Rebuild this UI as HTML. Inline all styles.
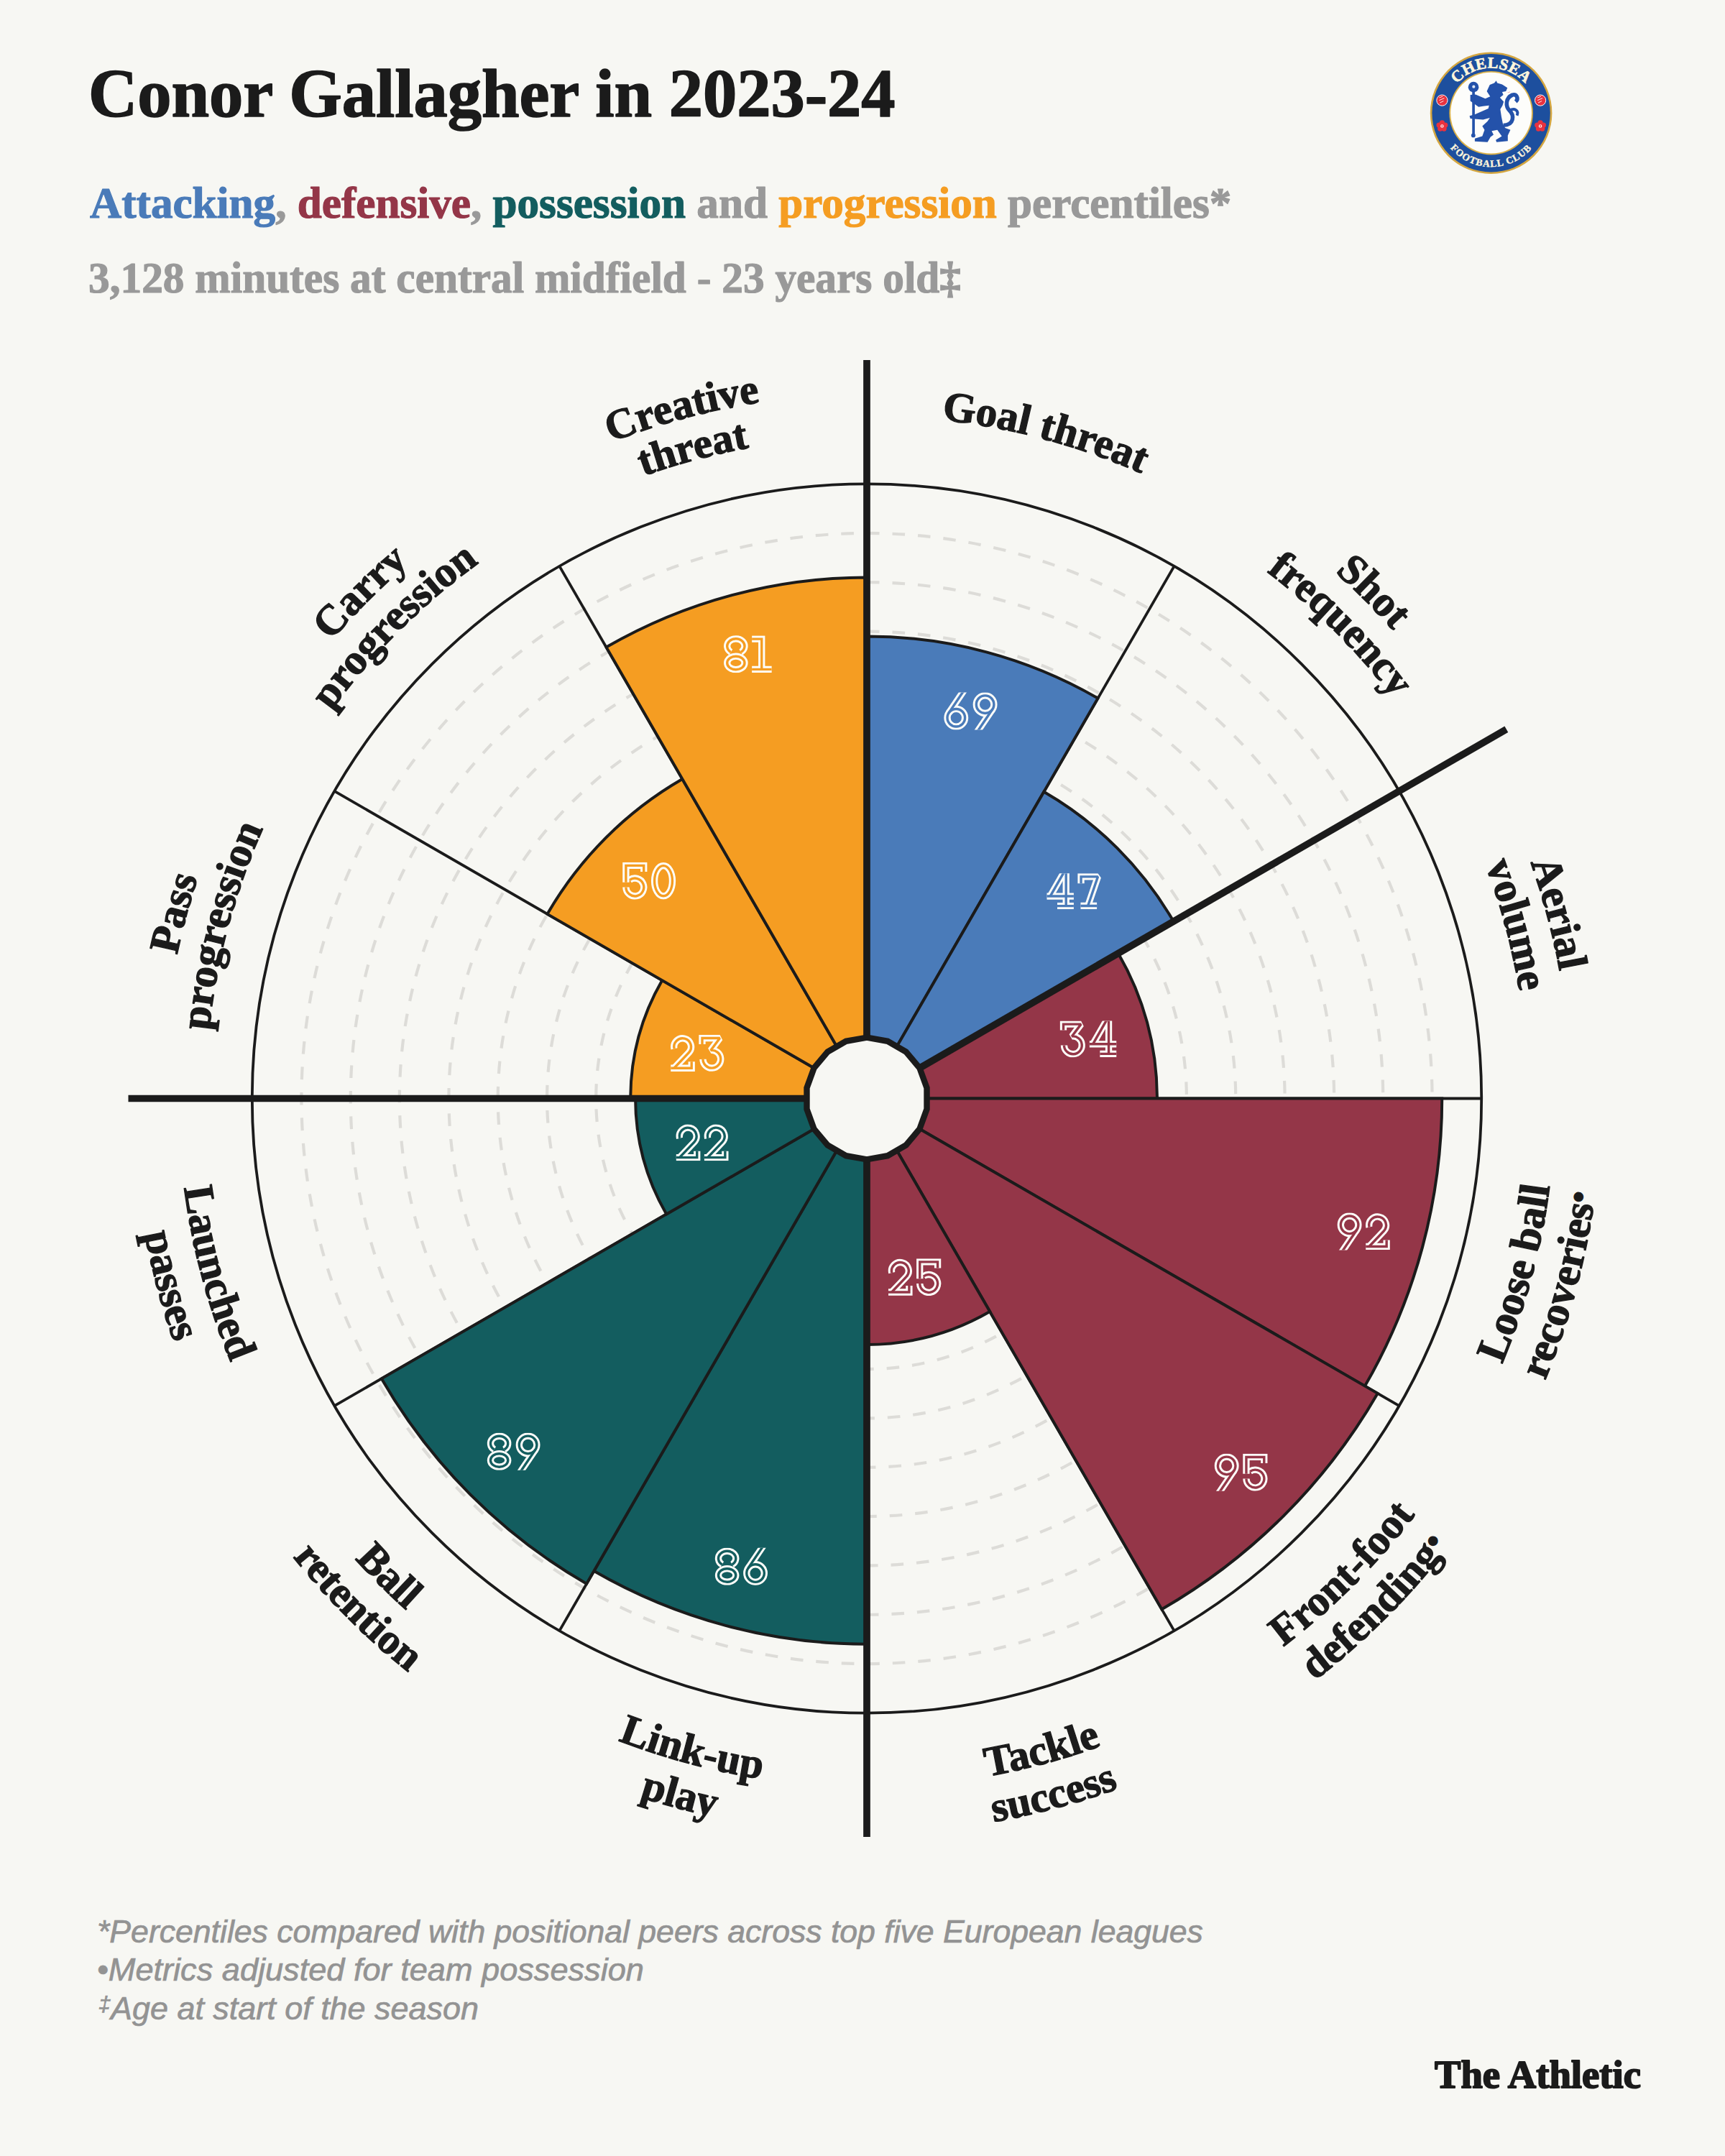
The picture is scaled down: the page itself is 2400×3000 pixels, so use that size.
<!DOCTYPE html>
<html><head><meta charset="utf-8"><style>
html,body{margin:0;padding:0;background:#f7f7f3;}
body{width:2400px;height:3000px;overflow:hidden;}
svg{display:block;}
</style></head><body>
<svg width="2400" height="3000" viewBox="0 0 2400 3000">
<defs><path id="lp0_0" d="M534.25 856.75 A950.00 950.00 0 0 1 2123.63 1282.62"/>
<path id="lp1_0" d="M952.36 581.89 A980.00 980.00 0 0 1 2152.61 1782.14"/>
<path id="lp1_1" d="M967.89 639.85 A920.00 920.00 0 0 1 2094.65 1766.61"/>
<path id="lp2_0" d="M1459.64 581.89 A980.00 980.00 0 0 1 1898.96 2221.46"/>
<path id="lp2_1" d="M1444.11 639.85 A920.00 920.00 0 0 1 1856.54 2179.04"/>
<path id="lp3_0" d="M1453.95 2453.86 A958.00 958.00 0 0 0 1883.41 851.09"/>
<path id="lp3_1" d="M1470.51 2515.68 A1022.00 1022.00 0 0 0 1928.66 805.84"/>
<path id="lp4_0" d="M958.05 2453.86 A958.00 958.00 0 0 0 2131.36 1280.55"/>
<path id="lp4_1" d="M941.49 2515.68 A1022.00 1022.00 0 0 0 2193.18 1263.99"/>
<path id="lp5_0" d="M528.59 2205.91 A958.00 958.00 0 0 0 2131.36 1776.45"/>
<path id="lp5_1" d="M483.34 2251.16 A1022.00 1022.00 0 0 0 2193.18 1793.01"/>
<path id="lp6_0" d="M280.64 1776.45 A958.00 958.00 0 0 0 1883.41 2205.91"/>
<path id="lp6_1" d="M218.82 1793.01 A1022.00 1022.00 0 0 0 1928.66 2251.16"/>
<path id="lp7_0" d="M280.64 1280.55 A958.00 958.00 0 0 0 1453.95 2453.86"/>
<path id="lp7_1" d="M218.82 1263.99 A1022.00 1022.00 0 0 0 1470.51 2515.68"/>
<path id="lp8_0" d="M528.59 851.09 A958.00 958.00 0 0 0 958.05 2453.86"/>
<path id="lp8_1" d="M483.34 805.84 A1022.00 1022.00 0 0 0 941.49 2515.68"/>
<path id="lp9_0" d="M513.04 2221.46 A980.00 980.00 0 0 1 952.36 581.89"/>
<path id="lp9_1" d="M555.46 2179.04 A920.00 920.00 0 0 1 967.89 639.85"/>
<path id="lp10_0" d="M259.39 1782.14 A980.00 980.00 0 0 1 1459.64 581.89"/>
<path id="lp10_1" d="M317.35 1766.61 A920.00 920.00 0 0 1 1444.11 639.85"/>
<path id="lp11_0" d="M259.39 1274.86 A980.00 980.00 0 0 1 1898.96 835.54"/>
<path id="lp11_1" d="M317.35 1290.39 A920.00 920.00 0 0 1 1856.54 877.96"/>
<path id="chtop" d="M2012.10 157.20 A62.50 62.50 0 0 1 2137.10 157.20"/>
<path id="chbot" d="M2000.74 170.22 A75.00 75.00 0 0 0 2148.46 170.22"/></defs>
<rect width="2400" height="3000" fill="#f7f7f3"/>
<text id="title" x="123" y="162" font-family="Liberation Serif" font-weight="bold" font-size="95" fill="#1b1b1b" stroke="#1b1b1b" stroke-width="1.6" stroke-linejoin="round" textLength="1122.6" lengthAdjust="spacingAndGlyphs">Conor Gallagher in 2023-24</text>
<text id="sub1" x="125" y="303" font-family="Liberation Serif" font-weight="bold" font-size="62" fill="#999999" stroke="#999999" stroke-width="1.2" stroke-linejoin="round" textLength="1588.4" lengthAdjust="spacingAndGlyphs"><tspan fill="#4a7bb9" stroke="#4a7bb9">Attacking</tspan>, <tspan fill="#943648" stroke="#943648">defensive</tspan>, <tspan fill="#135d5f" stroke="#135d5f">possession</tspan> and <tspan fill="#f59d22" stroke="#f59d22">progression</tspan> percentiles*</text>
<text id="sub2" x="123" y="407" font-family="Liberation Serif" font-weight="bold" font-size="62" fill="#999999" stroke="#999999" stroke-width="1.2" stroke-linejoin="round" textLength="1214.0" lengthAdjust="spacingAndGlyphs">3,128 minutes at central midfield - 23 years old‡</text>
<path d="M1206.00 1288.57 A239.93 239.93 0 1 1 1206.00 1768.43 A239.93 239.93 0 1 1 1206.00 1288.57" fill="none" stroke="#dddcd8" stroke-width="4.2" stroke-dasharray="17.6 17.95"/>
<path d="M1206.00 1220.24 A308.26 308.26 0 1 1 1206.00 1836.76 A308.26 308.26 0 1 1 1206.00 1220.24" fill="none" stroke="#dddcd8" stroke-width="4.2" stroke-dasharray="17.6 17.95"/>
<path d="M1206.00 1151.91 A376.59 376.59 0 1 1 1206.00 1905.09 A376.59 376.59 0 1 1 1206.00 1151.91" fill="none" stroke="#dddcd8" stroke-width="4.2" stroke-dasharray="17.6 17.95"/>
<path d="M1206.00 1083.58 A444.92 444.92 0 1 1 1206.00 1973.42 A444.92 444.92 0 1 1 1206.00 1083.58" fill="none" stroke="#dddcd8" stroke-width="4.2" stroke-dasharray="17.6 17.95"/>
<path d="M1206.00 1015.25 A513.25 513.25 0 1 1 1206.00 2041.75 A513.25 513.25 0 1 1 1206.00 1015.25" fill="none" stroke="#dddcd8" stroke-width="4.2" stroke-dasharray="17.6 17.95"/>
<path d="M1206.00 946.92 A581.58 581.58 0 1 1 1206.00 2110.08 A581.58 581.58 0 1 1 1206.00 946.92" fill="none" stroke="#dddcd8" stroke-width="4.2" stroke-dasharray="17.6 17.95"/>
<path d="M1206.00 878.59 A649.91 649.91 0 1 1 1206.00 2178.41 A649.91 649.91 0 1 1 1206.00 878.59" fill="none" stroke="#dddcd8" stroke-width="4.2" stroke-dasharray="17.6 17.95"/>
<path d="M1206.00 810.26 A718.24 718.24 0 1 1 1206.00 2246.74 A718.24 718.24 0 1 1 1206.00 810.26" fill="none" stroke="#dddcd8" stroke-width="4.2" stroke-dasharray="17.6 17.95"/>
<path d="M1206.00 741.93 A786.57 786.57 0 1 1 1206.00 2315.07 A786.57 786.57 0 1 1 1206.00 741.93" fill="none" stroke="#dddcd8" stroke-width="4.2" stroke-dasharray="17.6 17.95"/>
<circle cx="1206.00" cy="1528.50" r="855.20" fill="none" stroke="#1b1b1b" stroke-width="3.8"/>
<line x1="1206.00" y1="1528.50" x2="1206.00" y2="673.30" stroke="#1b1b1b" stroke-width="3.8"/>
<line x1="1206.00" y1="1528.50" x2="1633.60" y2="787.88" stroke="#1b1b1b" stroke-width="3.8"/>
<line x1="1206.00" y1="1528.50" x2="1946.62" y2="1100.90" stroke="#1b1b1b" stroke-width="3.8"/>
<line x1="1206.00" y1="1528.50" x2="2061.20" y2="1528.50" stroke="#1b1b1b" stroke-width="3.8"/>
<line x1="1206.00" y1="1528.50" x2="1946.62" y2="1956.10" stroke="#1b1b1b" stroke-width="3.8"/>
<line x1="1206.00" y1="1528.50" x2="1633.60" y2="2269.12" stroke="#1b1b1b" stroke-width="3.8"/>
<line x1="1206.00" y1="1528.50" x2="1206.00" y2="2383.70" stroke="#1b1b1b" stroke-width="3.8"/>
<line x1="1206.00" y1="1528.50" x2="778.40" y2="2269.12" stroke="#1b1b1b" stroke-width="3.8"/>
<line x1="1206.00" y1="1528.50" x2="465.38" y2="1956.10" stroke="#1b1b1b" stroke-width="3.8"/>
<line x1="1206.00" y1="1528.50" x2="350.80" y2="1528.50" stroke="#1b1b1b" stroke-width="3.8"/>
<line x1="1206.00" y1="1528.50" x2="465.38" y2="1100.90" stroke="#1b1b1b" stroke-width="3.8"/>
<line x1="1206.00" y1="1528.50" x2="778.40" y2="787.88" stroke="#1b1b1b" stroke-width="3.8"/>
<path d="M1206.00 1444.50 L1206.00 885.42 A643.08 643.08 0 0 1 1527.54 971.58 L1248.00 1455.75 A84.00 84.00 0 0 0 1206.00 1444.50 Z" fill="#4a7bb9" stroke="#1b1b1b" stroke-width="4.0" stroke-linejoin="miter"/>
<path d="M1248.00 1455.75 L1452.38 1101.77 A492.75 492.75 0 0 1 1632.73 1282.12 L1278.75 1486.50 A84.00 84.00 0 0 0 1248.00 1455.75 Z" fill="#4a7bb9" stroke="#1b1b1b" stroke-width="4.0" stroke-linejoin="miter"/>
<path d="M1278.75 1486.50 L1555.81 1326.54 A403.92 403.92 0 0 1 1609.92 1528.50 L1290.00 1528.50 A84.00 84.00 0 0 0 1278.75 1486.50 Z" fill="#943648" stroke="#1b1b1b" stroke-width="4.0" stroke-linejoin="miter"/>
<path d="M1290.00 1528.50 L2006.24 1528.50 A800.24 800.24 0 0 1 1899.02 1928.62 L1278.75 1570.50 A84.00 84.00 0 0 0 1290.00 1528.50 Z" fill="#943648" stroke="#1b1b1b" stroke-width="4.0" stroke-linejoin="miter"/>
<path d="M1278.75 1570.50 L1916.78 1938.87 A820.74 820.74 0 0 1 1616.37 2239.28 L1248.00 1601.25 A84.00 84.00 0 0 0 1278.75 1570.50 Z" fill="#943648" stroke="#1b1b1b" stroke-width="4.0" stroke-linejoin="miter"/>
<path d="M1248.00 1601.25 L1377.21 1825.05 A342.43 342.43 0 0 1 1206.00 1870.92 L1206.00 1612.50 A84.00 84.00 0 0 0 1248.00 1601.25 Z" fill="#943648" stroke="#1b1b1b" stroke-width="4.0" stroke-linejoin="miter"/>
<path d="M1206.00 1612.50 L1206.00 2287.74 A759.24 759.24 0 0 1 826.38 2186.02 L1164.00 1601.25 A84.00 84.00 0 0 0 1206.00 1612.50 Z" fill="#135d5f" stroke="#1b1b1b" stroke-width="4.0" stroke-linejoin="miter"/>
<path d="M1164.00 1601.25 L816.13 2203.77 A779.74 779.74 0 0 1 530.73 1918.37 L1133.25 1570.50 A84.00 84.00 0 0 0 1164.00 1601.25 Z" fill="#135d5f" stroke="#1b1b1b" stroke-width="4.0" stroke-linejoin="miter"/>
<path d="M1133.25 1570.50 L927.20 1689.46 A321.93 321.93 0 0 1 884.07 1528.50 L1122.00 1528.50 A84.00 84.00 0 0 0 1133.25 1570.50 Z" fill="#135d5f" stroke="#1b1b1b" stroke-width="4.0" stroke-linejoin="miter"/>
<path d="M1122.00 1528.50 L877.24 1528.50 A328.76 328.76 0 0 1 921.29 1364.12 L1133.25 1486.50 A84.00 84.00 0 0 0 1122.00 1528.50 Z" fill="#f59d22" stroke="#1b1b1b" stroke-width="4.0" stroke-linejoin="miter"/>
<path d="M1133.25 1486.50 L761.51 1271.88 A513.25 513.25 0 0 1 949.37 1084.01 L1164.00 1455.75 A84.00 84.00 0 0 0 1133.25 1486.50 Z" fill="#f59d22" stroke="#1b1b1b" stroke-width="4.0" stroke-linejoin="miter"/>
<path d="M1164.00 1455.75 L843.46 900.57 A725.07 725.07 0 0 1 1206.00 803.43 L1206.00 1444.50 A84.00 84.00 0 0 0 1164.00 1455.75 Z" fill="#f59d22" stroke="#1b1b1b" stroke-width="4.0" stroke-linejoin="miter"/>
<line x1="1206.00" y1="1528.50" x2="1206.00" y2="501.00" stroke="#1b1b1b" stroke-width="9.7"/>
<line x1="1206.00" y1="1528.50" x2="1206.00" y2="2556.00" stroke="#1b1b1b" stroke-width="9.7"/>
<line x1="1206.00" y1="1528.50" x2="178.50" y2="1528.50" stroke="#1b1b1b" stroke-width="9.7"/>
<line x1="1206.00" y1="1528.50" x2="2095.84" y2="1014.75" stroke="#1b1b1b" stroke-width="9.7"/>
<polygon points="1206.00,1443.70 1235.00,1448.81 1260.51,1463.54 1279.44,1486.10 1289.51,1513.77 1289.51,1543.23 1279.44,1570.90 1260.51,1593.46 1235.00,1608.19 1206.00,1613.30 1177.00,1608.19 1151.49,1593.46 1132.56,1570.90 1122.49,1543.23 1122.49,1513.77 1132.56,1486.10 1151.49,1463.54 1177.00,1448.81" fill="#f7f7f3" stroke="#1b1b1b" stroke-width="8.4" stroke-linejoin="miter"/>
<clipPath id="nclip1"><rect x="1303.19" y="963.44" width="94.50" height="52.00"/></clipPath>
<g clip-path="url(#nclip1)" fill="none" stroke="#fdfdf9" stroke-width="9.30" stroke-linejoin="miter" stroke-miterlimit="1.5"><path transform="translate(1313.19 963.44)" d="M28.2 -3 L6.93 28.39"/><path transform="translate(1313.19 963.44)" d="M4.8 35.3 A12.3 12.3 0 1 1 29.4 35.3 A12.3 12.3 0 1 1 4.8 35.3 Z"/><path transform="translate(1352.89 963.44)" d="M6.6 55 L27.87 23.61"/><path transform="translate(1352.89 963.44)" d="M30 16.7 A12.3 12.3 0 1 1 5.4 16.7 A12.3 12.3 0 1 1 30 16.7 Z"/></g>
<g clip-path="url(#nclip1)" fill="none" stroke="#4a7bb9" stroke-width="3.40" stroke-linejoin="miter" stroke-miterlimit="1.5"><path transform="translate(1313.19 963.44)" d="M28.2 -3 L6.93 28.39"/><path transform="translate(1313.19 963.44)" d="M4.8 35.3 A12.3 12.3 0 1 1 29.4 35.3 A12.3 12.3 0 1 1 4.8 35.3 Z"/><path transform="translate(1352.89 963.44)" d="M6.6 55 L27.87 23.61"/><path transform="translate(1352.89 963.44)" d="M30 16.7 A12.3 12.3 0 1 1 5.4 16.7 A12.3 12.3 0 1 1 30 16.7 Z"/></g>
<clipPath id="nclip2"><rect x="1446.50" y="1215.13" width="95.65" height="50.10"/></clipPath>
<g clip-path="url(#nclip2)" fill="none" stroke="#fdfdf9" stroke-width="9.30" stroke-linejoin="miter" stroke-miterlimit="1.5"><path transform="translate(1456.50 1215.13)" d="M4.65 31.9 L24.7 -3"/><path transform="translate(1456.50 1215.13)" d="M26.7 -2 V45.45"/><path transform="translate(1456.50 1215.13)" d="M0 31.9 H37.4"/><path transform="translate(1456.50 1215.13)" d="M14.5 45.45 H37.4"/><path transform="translate(1499.40 1215.23)" d="M4.65 13.9 V4.65 H28.1 L14.2 45.25"/><path transform="translate(1499.40 1215.23)" d="M4.06 45.25 H26.7"/></g>
<g clip-path="url(#nclip2)" fill="none" stroke="#4a7bb9" stroke-width="3.40" stroke-linejoin="miter" stroke-miterlimit="1.5"><path transform="translate(1456.50 1215.13)" d="M4.65 31.9 L24.7 -3"/><path transform="translate(1456.50 1215.13)" d="M26.7 -2 V45.45"/><path transform="translate(1456.50 1215.13)" d="M0 31.9 H37.4"/><path transform="translate(1456.50 1215.13)" d="M14.5 45.45 H37.4"/><path transform="translate(1499.40 1215.23)" d="M4.65 13.9 V4.65 H28.1 L14.2 45.25"/><path transform="translate(1499.40 1215.23)" d="M4.06 45.25 H26.7"/></g>
<clipPath id="nclip3"><rect x="1464.85" y="1420.46" width="98.40" height="51.00"/></clipPath>
<g clip-path="url(#nclip3)" fill="none" stroke="#fdfdf9" stroke-width="9.30" stroke-linejoin="miter" stroke-miterlimit="1.5"><path transform="translate(1474.85 1420.46)" d="M4.65 13 V4.65 H29.2 L16.5 21.55 A12.4 12.4 0 1 1 5.6 33.95"/><path transform="translate(1515.85 1420.91)" d="M4.65 31.9 L24.7 -3"/><path transform="translate(1515.85 1420.91)" d="M26.7 -2 V45.45"/><path transform="translate(1515.85 1420.91)" d="M0 31.9 H37.4"/><path transform="translate(1515.85 1420.91)" d="M14.5 45.45 H37.4"/></g>
<g clip-path="url(#nclip3)" fill="none" stroke="#943648" stroke-width="3.40" stroke-linejoin="miter" stroke-miterlimit="1.5"><path transform="translate(1474.85 1420.46)" d="M4.65 13 V4.65 H29.2 L16.5 21.55 A12.4 12.4 0 1 1 5.6 33.95"/><path transform="translate(1515.85 1420.91)" d="M4.65 31.9 L24.7 -3"/><path transform="translate(1515.85 1420.91)" d="M26.7 -2 V45.45"/><path transform="translate(1515.85 1420.91)" d="M0 31.9 H37.4"/><path transform="translate(1515.85 1420.91)" d="M14.5 45.45 H37.4"/></g>
<clipPath id="nclip4"><rect x="1849.91" y="1687.62" width="93.90" height="52.00"/></clipPath>
<g clip-path="url(#nclip4)" fill="none" stroke="#fdfdf9" stroke-width="9.30" stroke-linejoin="miter" stroke-miterlimit="1.5"><path transform="translate(1859.91 1687.62)" d="M6.6 55 L27.87 23.61"/><path transform="translate(1859.91 1687.62)" d="M30 16.7 A12.3 12.3 0 1 1 5.4 16.7 A12.3 12.3 0 1 1 30 16.7 Z"/><path transform="translate(1900.21 1688.12)" d="M4.8 19.5 A11.9 11.9 0 1 1 25.17 24.81 L4.65 46.35"/><path transform="translate(1900.21 1688.12)" d="M0 46.35 H28.95 V37.4"/></g>
<g clip-path="url(#nclip4)" fill="none" stroke="#943648" stroke-width="3.40" stroke-linejoin="miter" stroke-miterlimit="1.5"><path transform="translate(1859.91 1687.62)" d="M6.6 55 L27.87 23.61"/><path transform="translate(1859.91 1687.62)" d="M30 16.7 A12.3 12.3 0 1 1 5.4 16.7 A12.3 12.3 0 1 1 30 16.7 Z"/><path transform="translate(1900.21 1688.12)" d="M4.8 19.5 A11.9 11.9 0 1 1 25.17 24.81 L4.65 46.35"/><path transform="translate(1900.21 1688.12)" d="M0 46.35 H28.95 V37.4"/></g>
<clipPath id="nclip5"><rect x="1678.99" y="2022.74" width="94.50" height="52.00"/></clipPath>
<g clip-path="url(#nclip5)" fill="none" stroke="#fdfdf9" stroke-width="9.30" stroke-linejoin="miter" stroke-miterlimit="1.5"><path transform="translate(1688.99 2022.74)" d="M6.6 55 L27.87 23.61"/><path transform="translate(1688.99 2022.74)" d="M30 16.7 A12.3 12.3 0 1 1 5.4 16.7 A12.3 12.3 0 1 1 30 16.7 Z"/><path transform="translate(1729.29 2022.79)" d="M29.5 13.3 V4.65 H4.65 V28"/><path transform="translate(1729.29 2022.79)" d="M9.96 24.6 A12.45 12.45 0 1 1 4.65 34.8"/></g>
<g clip-path="url(#nclip5)" fill="none" stroke="#943648" stroke-width="3.40" stroke-linejoin="miter" stroke-miterlimit="1.5"><path transform="translate(1688.99 2022.74)" d="M6.6 55 L27.87 23.61"/><path transform="translate(1688.99 2022.74)" d="M30 16.7 A12.3 12.3 0 1 1 5.4 16.7 A12.3 12.3 0 1 1 30 16.7 Z"/><path transform="translate(1729.29 2022.79)" d="M29.5 13.3 V4.65 H4.65 V28"/><path transform="translate(1729.29 2022.79)" d="M9.96 24.6 A12.45 12.45 0 1 1 4.65 34.8"/></g>
<clipPath id="nclip6"><rect x="1225.98" y="1751.20" width="93.30" height="51.90"/></clipPath>
<g clip-path="url(#nclip6)" fill="none" stroke="#fdfdf9" stroke-width="9.30" stroke-linejoin="miter" stroke-miterlimit="1.5"><path transform="translate(1235.98 1751.65)" d="M4.8 19.5 A11.9 11.9 0 1 1 25.17 24.81 L4.65 46.35"/><path transform="translate(1235.98 1751.65)" d="M0 46.35 H28.95 V37.4"/><path transform="translate(1275.08 1751.20)" d="M29.5 13.3 V4.65 H4.65 V28"/><path transform="translate(1275.08 1751.20)" d="M9.96 24.6 A12.45 12.45 0 1 1 4.65 34.8"/></g>
<g clip-path="url(#nclip6)" fill="none" stroke="#943648" stroke-width="3.40" stroke-linejoin="miter" stroke-miterlimit="1.5"><path transform="translate(1235.98 1751.65)" d="M4.8 19.5 A11.9 11.9 0 1 1 25.17 24.81 L4.65 46.35"/><path transform="translate(1235.98 1751.65)" d="M0 46.35 H28.95 V37.4"/><path transform="translate(1275.08 1751.20)" d="M29.5 13.3 V4.65 H4.65 V28"/><path transform="translate(1275.08 1751.20)" d="M9.96 24.6 A12.45 12.45 0 1 1 4.65 34.8"/></g>
<clipPath id="nclip7"><rect x="984.84" y="2153.66" width="93.30" height="52.20"/></clipPath>
<g clip-path="url(#nclip7)" fill="none" stroke="#fdfdf9" stroke-width="9.30" stroke-linejoin="miter" stroke-miterlimit="1.5"><path transform="translate(994.84 2153.66)" d="M9.83 23.34 A12.15 10.3 0 1 1 23.77 23.34"/><path transform="translate(994.84 2153.66)" d="M4.65 38.3 A12.15 9.25 0 1 1 28.95 38.3 A12.15 9.25 0 1 1 4.65 38.3 Z"/><path transform="translate(1033.94 2153.76)" d="M28.2 -3 L6.93 28.39"/><path transform="translate(1033.94 2153.76)" d="M4.8 35.3 A12.3 12.3 0 1 1 29.4 35.3 A12.3 12.3 0 1 1 4.8 35.3 Z"/></g>
<g clip-path="url(#nclip7)" fill="none" stroke="#135d5f" stroke-width="3.40" stroke-linejoin="miter" stroke-miterlimit="1.5"><path transform="translate(994.84 2153.66)" d="M9.83 23.34 A12.15 10.3 0 1 1 23.77 23.34"/><path transform="translate(994.84 2153.66)" d="M4.65 38.3 A12.15 9.25 0 1 1 28.95 38.3 A12.15 9.25 0 1 1 4.65 38.3 Z"/><path transform="translate(1033.94 2153.76)" d="M28.2 -3 L6.93 28.39"/><path transform="translate(1033.94 2153.76)" d="M4.8 35.3 A12.3 12.3 0 1 1 29.4 35.3 A12.3 12.3 0 1 1 4.8 35.3 Z"/></g>
<clipPath id="nclip8"><rect x="667.80" y="1993.65" width="93.90" height="52.20"/></clipPath>
<g clip-path="url(#nclip8)" fill="none" stroke="#fdfdf9" stroke-width="9.30" stroke-linejoin="miter" stroke-miterlimit="1.5"><path transform="translate(677.80 1993.65)" d="M9.83 23.34 A12.15 10.3 0 1 1 23.77 23.34"/><path transform="translate(677.80 1993.65)" d="M4.65 38.3 A12.15 9.25 0 1 1 28.95 38.3 A12.15 9.25 0 1 1 4.65 38.3 Z"/><path transform="translate(716.90 1993.75)" d="M6.6 55 L27.87 23.61"/><path transform="translate(716.90 1993.75)" d="M30 16.7 A12.3 12.3 0 1 1 5.4 16.7 A12.3 12.3 0 1 1 30 16.7 Z"/></g>
<g clip-path="url(#nclip8)" fill="none" stroke="#135d5f" stroke-width="3.40" stroke-linejoin="miter" stroke-miterlimit="1.5"><path transform="translate(677.80 1993.65)" d="M9.83 23.34 A12.15 10.3 0 1 1 23.77 23.34"/><path transform="translate(677.80 1993.65)" d="M4.65 38.3 A12.15 9.25 0 1 1 28.95 38.3 A12.15 9.25 0 1 1 4.65 38.3 Z"/><path transform="translate(716.90 1993.75)" d="M6.6 55 L27.87 23.61"/><path transform="translate(716.90 1993.75)" d="M30 16.7 A12.3 12.3 0 1 1 5.4 16.7 A12.3 12.3 0 1 1 30 16.7 Z"/></g>
<clipPath id="nclip9"><rect x="930.80" y="1564.32" width="92.70" height="51.00"/></clipPath>
<g clip-path="url(#nclip9)" fill="none" stroke="#fdfdf9" stroke-width="9.30" stroke-linejoin="miter" stroke-miterlimit="1.5"><path transform="translate(940.80 1564.32)" d="M4.8 19.5 A11.9 11.9 0 1 1 25.17 24.81 L4.65 46.35"/><path transform="translate(940.80 1564.32)" d="M0 46.35 H28.95 V37.4"/><path transform="translate(979.90 1564.32)" d="M4.8 19.5 A11.9 11.9 0 1 1 25.17 24.81 L4.65 46.35"/><path transform="translate(979.90 1564.32)" d="M0 46.35 H28.95 V37.4"/></g>
<g clip-path="url(#nclip9)" fill="none" stroke="#135d5f" stroke-width="3.40" stroke-linejoin="miter" stroke-miterlimit="1.5"><path transform="translate(940.80 1564.32)" d="M4.8 19.5 A11.9 11.9 0 1 1 25.17 24.81 L4.65 46.35"/><path transform="translate(940.80 1564.32)" d="M0 46.35 H28.95 V37.4"/><path transform="translate(979.90 1564.32)" d="M4.8 19.5 A11.9 11.9 0 1 1 25.17 24.81 L4.65 46.35"/><path transform="translate(979.90 1564.32)" d="M0 46.35 H28.95 V37.4"/></g>
<clipPath id="nclip10"><rect x="923.25" y="1439.91" width="94.60" height="51.00"/></clipPath>
<g clip-path="url(#nclip10)" fill="none" stroke="#fdfdf9" stroke-width="9.30" stroke-linejoin="miter" stroke-miterlimit="1.5"><path transform="translate(933.25 1439.91)" d="M4.8 19.5 A11.9 11.9 0 1 1 25.17 24.81 L4.65 46.35"/><path transform="translate(933.25 1439.91)" d="M0 46.35 H28.95 V37.4"/><path transform="translate(972.35 1439.91)" d="M4.65 13 V4.65 H29.2 L16.5 21.55 A12.4 12.4 0 1 1 5.6 33.95"/></g>
<g clip-path="url(#nclip10)" fill="none" stroke="#f59d22" stroke-width="3.40" stroke-linejoin="miter" stroke-miterlimit="1.5"><path transform="translate(933.25 1439.91)" d="M4.8 19.5 A11.9 11.9 0 1 1 25.17 24.81 L4.65 46.35"/><path transform="translate(933.25 1439.91)" d="M0 46.35 H28.95 V37.4"/><path transform="translate(972.35 1439.91)" d="M4.65 13 V4.65 H29.2 L16.5 21.55 A12.4 12.4 0 1 1 5.6 33.95"/></g>
<clipPath id="nclip11"><rect x="856.23" y="1199.73" width="93.90" height="51.90"/></clipPath>
<g clip-path="url(#nclip11)" fill="none" stroke="#fdfdf9" stroke-width="9.30" stroke-linejoin="miter" stroke-miterlimit="1.5"><path transform="translate(866.23 1199.73)" d="M29.5 13.3 V4.65 H4.65 V28"/><path transform="translate(866.23 1199.73)" d="M9.96 24.6 A12.45 12.45 0 1 1 4.65 34.8"/><path transform="translate(905.93 1199.93)" d="M4.65 25.75 A12.45 21.1 0 1 1 29.55 25.75 A12.45 21.1 0 1 1 4.65 25.75 Z"/></g>
<g clip-path="url(#nclip11)" fill="none" stroke="#f59d22" stroke-width="3.40" stroke-linejoin="miter" stroke-miterlimit="1.5"><path transform="translate(866.23 1199.73)" d="M29.5 13.3 V4.65 H4.65 V28"/><path transform="translate(866.23 1199.73)" d="M9.96 24.6 A12.45 12.45 0 1 1 4.65 34.8"/><path transform="translate(905.93 1199.93)" d="M4.65 25.75 A12.45 21.1 0 1 1 29.55 25.75 A12.45 21.1 0 1 1 4.65 25.75 Z"/></g>
<clipPath id="nclip12"><rect x="997.04" y="884.14" width="86.60" height="52.20"/></clipPath>
<g clip-path="url(#nclip12)" fill="none" stroke="#fdfdf9" stroke-width="9.30" stroke-linejoin="miter" stroke-miterlimit="1.5"><path transform="translate(1007.04 884.14)" d="M9.83 23.34 A12.15 10.3 0 1 1 23.77 23.34"/><path transform="translate(1007.04 884.14)" d="M4.65 38.3 A12.15 9.25 0 1 1 28.95 38.3 A12.15 9.25 0 1 1 4.65 38.3 Z"/><path transform="translate(1046.14 884.49)" d="M0 4.65 H13.6 V46.85"/><path transform="translate(1046.14 884.49)" d="M0 46.85 H27.5"/></g>
<g clip-path="url(#nclip12)" fill="none" stroke="#f59d22" stroke-width="3.40" stroke-linejoin="miter" stroke-miterlimit="1.5"><path transform="translate(1007.04 884.14)" d="M9.83 23.34 A12.15 10.3 0 1 1 23.77 23.34"/><path transform="translate(1007.04 884.14)" d="M4.65 38.3 A12.15 9.25 0 1 1 28.95 38.3 A12.15 9.25 0 1 1 4.65 38.3 Z"/><path transform="translate(1046.14 884.49)" d="M0 4.65 H13.6 V46.85"/><path transform="translate(1046.14 884.49)" d="M0 46.85 H27.5"/></g>
<text font-family="Liberation Serif" font-weight="bold" font-size="59" fill="#1b1b1b" stroke="#1b1b1b" stroke-width="1.3" stroke-linejoin="round"><textPath href="#lp0_0" startOffset="50%" text-anchor="middle">Goal threat</textPath></text>
<text font-family="Liberation Serif" font-weight="bold" font-size="59" fill="#1b1b1b" stroke="#1b1b1b" stroke-width="1.3" stroke-linejoin="round"><textPath href="#lp1_0" startOffset="50%" text-anchor="middle">Shot</textPath></text>
<text font-family="Liberation Serif" font-weight="bold" font-size="59" fill="#1b1b1b" stroke="#1b1b1b" stroke-width="1.3" stroke-linejoin="round"><textPath href="#lp1_1" startOffset="50%" text-anchor="middle">frequency</textPath></text>
<text font-family="Liberation Serif" font-weight="bold" font-size="59" fill="#1b1b1b" stroke="#1b1b1b" stroke-width="1.3" stroke-linejoin="round"><textPath href="#lp2_0" startOffset="50%" text-anchor="middle">Aerial</textPath></text>
<text font-family="Liberation Serif" font-weight="bold" font-size="59" fill="#1b1b1b" stroke="#1b1b1b" stroke-width="1.3" stroke-linejoin="round"><textPath href="#lp2_1" startOffset="50%" text-anchor="middle">volume</textPath></text>
<text font-family="Liberation Serif" font-weight="bold" font-size="59" fill="#1b1b1b" stroke="#1b1b1b" stroke-width="1.3" stroke-linejoin="round"><textPath href="#lp3_0" startOffset="50%" text-anchor="middle">Loose ball</textPath></text>
<text font-family="Liberation Serif" font-weight="bold" font-size="59" fill="#1b1b1b" stroke="#1b1b1b" stroke-width="1.3" stroke-linejoin="round"><textPath href="#lp3_1" startOffset="50%" text-anchor="middle">recoveries<tspan font-size="46" dy="-7">•</tspan></textPath></text>
<text font-family="Liberation Serif" font-weight="bold" font-size="59" fill="#1b1b1b" stroke="#1b1b1b" stroke-width="1.3" stroke-linejoin="round"><textPath href="#lp4_0" startOffset="50%" text-anchor="middle">Front-foot</textPath></text>
<text font-family="Liberation Serif" font-weight="bold" font-size="59" fill="#1b1b1b" stroke="#1b1b1b" stroke-width="1.3" stroke-linejoin="round"><textPath href="#lp4_1" startOffset="50%" text-anchor="middle">defending<tspan font-size="46" dy="-7">•</tspan></textPath></text>
<text font-family="Liberation Serif" font-weight="bold" font-size="59" fill="#1b1b1b" stroke="#1b1b1b" stroke-width="1.3" stroke-linejoin="round"><textPath href="#lp5_0" startOffset="50%" text-anchor="middle">Tackle</textPath></text>
<text font-family="Liberation Serif" font-weight="bold" font-size="59" fill="#1b1b1b" stroke="#1b1b1b" stroke-width="1.3" stroke-linejoin="round"><textPath href="#lp5_1" startOffset="50%" text-anchor="middle">success</textPath></text>
<text font-family="Liberation Serif" font-weight="bold" font-size="59" fill="#1b1b1b" stroke="#1b1b1b" stroke-width="1.3" stroke-linejoin="round"><textPath href="#lp6_0" startOffset="50%" text-anchor="middle">Link-up</textPath></text>
<text font-family="Liberation Serif" font-weight="bold" font-size="59" fill="#1b1b1b" stroke="#1b1b1b" stroke-width="1.3" stroke-linejoin="round"><textPath href="#lp6_1" startOffset="50%" text-anchor="middle">play</textPath></text>
<text font-family="Liberation Serif" font-weight="bold" font-size="59" fill="#1b1b1b" stroke="#1b1b1b" stroke-width="1.3" stroke-linejoin="round"><textPath href="#lp7_0" startOffset="50%" text-anchor="middle">Ball</textPath></text>
<text font-family="Liberation Serif" font-weight="bold" font-size="59" fill="#1b1b1b" stroke="#1b1b1b" stroke-width="1.3" stroke-linejoin="round"><textPath href="#lp7_1" startOffset="50%" text-anchor="middle">retention</textPath></text>
<text font-family="Liberation Serif" font-weight="bold" font-size="59" fill="#1b1b1b" stroke="#1b1b1b" stroke-width="1.3" stroke-linejoin="round"><textPath href="#lp8_0" startOffset="50%" text-anchor="middle">Launched</textPath></text>
<text font-family="Liberation Serif" font-weight="bold" font-size="59" fill="#1b1b1b" stroke="#1b1b1b" stroke-width="1.3" stroke-linejoin="round"><textPath href="#lp8_1" startOffset="50%" text-anchor="middle">passes</textPath></text>
<text font-family="Liberation Serif" font-weight="bold" font-size="59" fill="#1b1b1b" stroke="#1b1b1b" stroke-width="1.3" stroke-linejoin="round"><textPath href="#lp9_0" startOffset="50%" text-anchor="middle">Pass</textPath></text>
<text font-family="Liberation Serif" font-weight="bold" font-size="59" fill="#1b1b1b" stroke="#1b1b1b" stroke-width="1.3" stroke-linejoin="round"><textPath href="#lp9_1" startOffset="50%" text-anchor="middle">progression</textPath></text>
<text font-family="Liberation Serif" font-weight="bold" font-size="59" fill="#1b1b1b" stroke="#1b1b1b" stroke-width="1.3" stroke-linejoin="round"><textPath href="#lp10_0" startOffset="50%" text-anchor="middle">Carry</textPath></text>
<text font-family="Liberation Serif" font-weight="bold" font-size="59" fill="#1b1b1b" stroke="#1b1b1b" stroke-width="1.3" stroke-linejoin="round"><textPath href="#lp10_1" startOffset="50%" text-anchor="middle">progression</textPath></text>
<text font-family="Liberation Serif" font-weight="bold" font-size="59" fill="#1b1b1b" stroke="#1b1b1b" stroke-width="1.3" stroke-linejoin="round"><textPath href="#lp11_0" startOffset="50%" text-anchor="middle">Creative</textPath></text>
<text font-family="Liberation Serif" font-weight="bold" font-size="59" fill="#1b1b1b" stroke="#1b1b1b" stroke-width="1.3" stroke-linejoin="round"><textPath href="#lp11_1" startOffset="50%" text-anchor="middle">threat</textPath></text>
<circle cx="2074.6" cy="157.2" r="84.8" fill="#d4a640"/>
<circle cx="2074.6" cy="157.2" r="82.2" fill="#1d4f9e"/>
<circle cx="2074.6" cy="157.2" r="58.3" fill="#d9b04a"/>
<circle cx="2074.6" cy="157.2" r="56.4" fill="#fdfdfb"/>
<text font-family="Liberation Serif" font-weight="bold" font-size="22" fill="#fff6dc" letter-spacing="0.5" stroke="#fff6dc" stroke-width="0.7"><textPath href="#chtop" startOffset="50%" text-anchor="middle">CHELSEA</textPath></text>
<text font-family="Liberation Serif" font-weight="bold" font-size="13.5" fill="#fff6dc" letter-spacing="1.1" stroke="#fff6dc" stroke-width="0.4"><textPath href="#chbot" startOffset="50%" text-anchor="middle">FOOTBALL CLUB</textPath></text>
<circle cx="2006.4" cy="139.6" r="7.6" fill="#e8323f" stroke="#fff" stroke-width="1"/>
<path d="M2002.4 136 l5 -2 M2002.4 139.6 l7 -3 M2003.4 143 l5 -2.5" stroke="#fff" stroke-width="0.9"/>
<circle cx="2006.40" cy="170.80" r="3.6" fill="#e8323f"/><circle cx="2010.77" cy="173.98" r="3.6" fill="#e8323f"/><circle cx="2009.10" cy="179.12" r="3.6" fill="#e8323f"/><circle cx="2003.70" cy="179.12" r="3.6" fill="#e8323f"/><circle cx="2002.03" cy="173.98" r="3.6" fill="#e8323f"/>
<circle cx="2006.4" cy="175.4" r="2.2" fill="#fff"/><circle cx="2006.4" cy="175.4" r="1.1" fill="#e8323f"/>
<circle cx="2143.1" cy="139.6" r="7.6" fill="#e8323f" stroke="#fff" stroke-width="1"/>
<path d="M2139.1 136 l5 -2 M2139.1 139.6 l7 -3 M2140.1 143 l5 -2.5" stroke="#fff" stroke-width="0.9"/>
<circle cx="2143.10" cy="170.80" r="3.6" fill="#e8323f"/><circle cx="2147.47" cy="173.98" r="3.6" fill="#e8323f"/><circle cx="2145.80" cy="179.12" r="3.6" fill="#e8323f"/><circle cx="2140.40" cy="179.12" r="3.6" fill="#e8323f"/><circle cx="2138.73" cy="173.98" r="3.6" fill="#e8323f"/>
<circle cx="2143.1" cy="175.4" r="2.2" fill="#fff"/><circle cx="2143.1" cy="175.4" r="1.1" fill="#e8323f"/>
<g transform="translate(2030 105) scale(0.05216)" fill="#2452aa">
<path d="M990 140 L1020 200 L1150 240 L1290 330 L1250 420 L1150 440 L1180 520 L1090 590 L1190 700 L1160 800 L1100 900 L1130 1100 L1170 1300 L1230 1400 L1370 1450 L1300 1600 L1300 1750 L1000 1780 L980 1720 L1140 1620 L1020 1450 L870 1480 L920 1580 L840 1640 L760 1780 L420 1760 L420 1680 L620 1620 L680 1450 L620 1350 L760 1220 L820 1130 L640 1180 L300 1150 L280 1080 L420 1040 L780 880 L800 800 L640 820 L520 840 L300 680 L300 520 L440 510 L700 620 L830 560 L740 420 L820 250 L940 200Z"/>
<path d="M1180 1330 C1480 1320 1470 1060 1350 940 C1230 820 1240 600 1420 520 C1540 490 1600 620 1510 700" fill="none" stroke="#2452aa" stroke-width="105"/>
<path d="M1350 930 C1480 860 1600 930 1545 1070" fill="none" stroke="#2452aa" stroke-width="75"/>
<circle cx="385" cy="310" r="140"/><circle cx="390" cy="300" r="40" fill="#dfe8f5"/>
<rect x="350" y="430" width="70" height="1130"/><circle cx="380" cy="1600" r="55"/>
<path d="M1250 440 q60 30 120 -20 q-40 60 -120 20z" fill="#e03a3a"/>
</g>
<text id="fn1" x="135" y="2703" font-family="Liberation Sans" font-style="italic" font-size="44" fill="#939393" stroke="#939393" stroke-width="0.7" textLength="1538.9" lengthAdjust="spacingAndGlyphs">*Percentiles compared with positional peers across top five European leagues</text>
<text id="fn2" x="135" y="2756" font-family="Liberation Sans" font-style="italic" font-size="44" fill="#939393" stroke="#939393" stroke-width="0.7" textLength="760.9" lengthAdjust="spacingAndGlyphs">•Metrics adjusted for team possession</text>
<text id="fn3" x="137" y="2810" font-family="Liberation Sans" font-style="italic" font-size="44" fill="#939393" stroke="#939393" stroke-width="0.7" textLength="528.9" lengthAdjust="spacingAndGlyphs"><tspan font-size="30" dy="-11">‡</tspan><tspan dy="11">Age at start of the season</tspan></text>
<text id="ath" x="1996" y="2905" font-family="Liberation Serif" font-weight="bold" font-size="55" fill="#1b1b1b" stroke="#1b1b1b" stroke-width="2" stroke-linejoin="round" textLength="286.9" lengthAdjust="spacingAndGlyphs">The Athletic</text>
</svg>
</body></html>
